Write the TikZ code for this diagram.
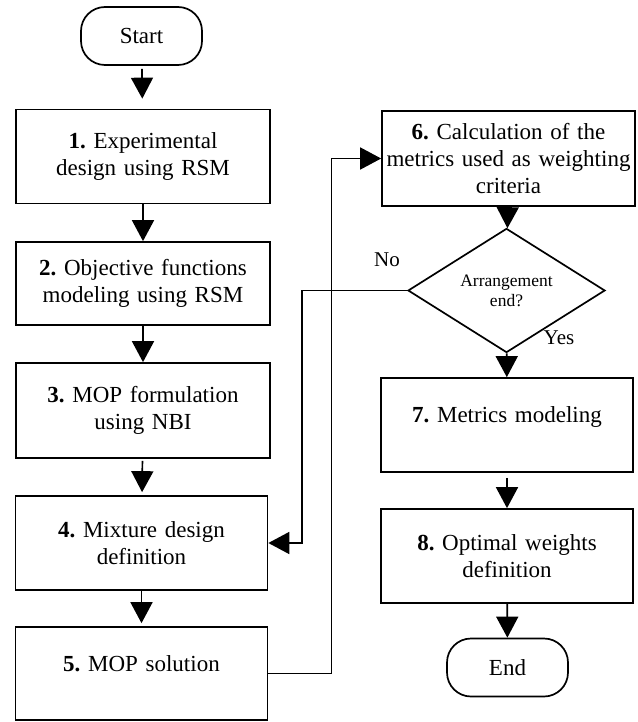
\documentclass[tikz,border=0pt]{standalone}
\usepackage{fontspec}
\setmainfont{Liberation Serif}
\usetikzlibrary{arrows.meta,shapes.geometric}
\begin{document}
\frenchspacing
\begin{tikzpicture}[x=1pt,y=-1pt,
  every node/.style={font=\fontsize{23}{27}\selectfont},
  box/.style={draw,line width=1.7pt,minimum width=254pt,minimum height=94pt,inner sep=2pt,align=center,text width=248pt},
  term/.style={draw,line width=1.7pt,rounded corners=24pt,minimum width=121pt,minimum height=58pt,inner sep=0pt},
  dec/.style={draw,line width=1.7pt,diamond,minimum width=197pt,minimum height=97pt,inner sep=0pt,align=center,font=\fontsize{17.5}{20}\selectfont},
  arr/.style={line width=1.7pt,-{Triangle[length=21pt,width=22pt]}},
  lab/.style={font=\fontsize{21}{24}\selectfont}]
\useasboundingbox (0,0) rectangle (637,722);
\node[term] (start) at (141.5,36) {Start};
\node[box] (b1) at (143,156.5) {\textbf{1.} Experimental\\design using RSM};
\node[box,minimum height=83pt] (b2) at (143,283.5) {\textbf{2.} Objective functions\\modeling using RSM};
\node[box,minimum height=95pt] (b3) at (143,410.5) {\textbf{3.} MOP formulation\\using NBI};
\node[box,minimum width=251pt] (b4) at (141.5,543) {\textbf{4.} Mixture design\\definition};
\node[box,minimum width=251pt,minimum height=93pt,text depth=20pt] (b5) at (141.5,673.5) {\textbf{5.} MOP solution};
\node[box,minimum width=253pt,minimum height=95pt] (b6) at (508.5,158.5) {\textbf{6.} Calculation of the\\metrics used as weighting\\criteria};
\node[dec] (d) at (506.5,290.5) {Arrangement\\end?};
\node[box,minimum width=252pt,text depth=20pt] (b7) at (507,425) {\textbf{7.} Metrics modeling};
\node[box,minimum width=252pt] (b8) at (507,556) {\textbf{8.} Optimal weights\\definition};
\node[term] (end) at (507.5,667.5) {End};
\node[lab] at (387,260) {No};
\node[lab] at (559,338) {Yes};
\draw[arr,shorten <=3pt,shorten >=10pt] (start) -- (b1);
\draw[arr] (b1) -- (b2);
\draw[arr] (b2) -- (b3);
\draw[arr,shorten <=2pt,shorten >=3pt] (b3) -- (b4);
\draw[arr,shorten >=3pt] (b4) -- (b5);
\draw[arr] (b6) -- (d);
\draw[arr] (d) -- (b7);
\draw[arr,shorten <=5pt] (b7) -- (b8);
\draw[arr] (b8) -- (end);
\draw[arr] (b5.east) -- ++(63,0) |- (b6.west);
\draw[arr] (d.west) -- ++(-105,0) |- (b4.east);
\end{tikzpicture}
\end{document}
